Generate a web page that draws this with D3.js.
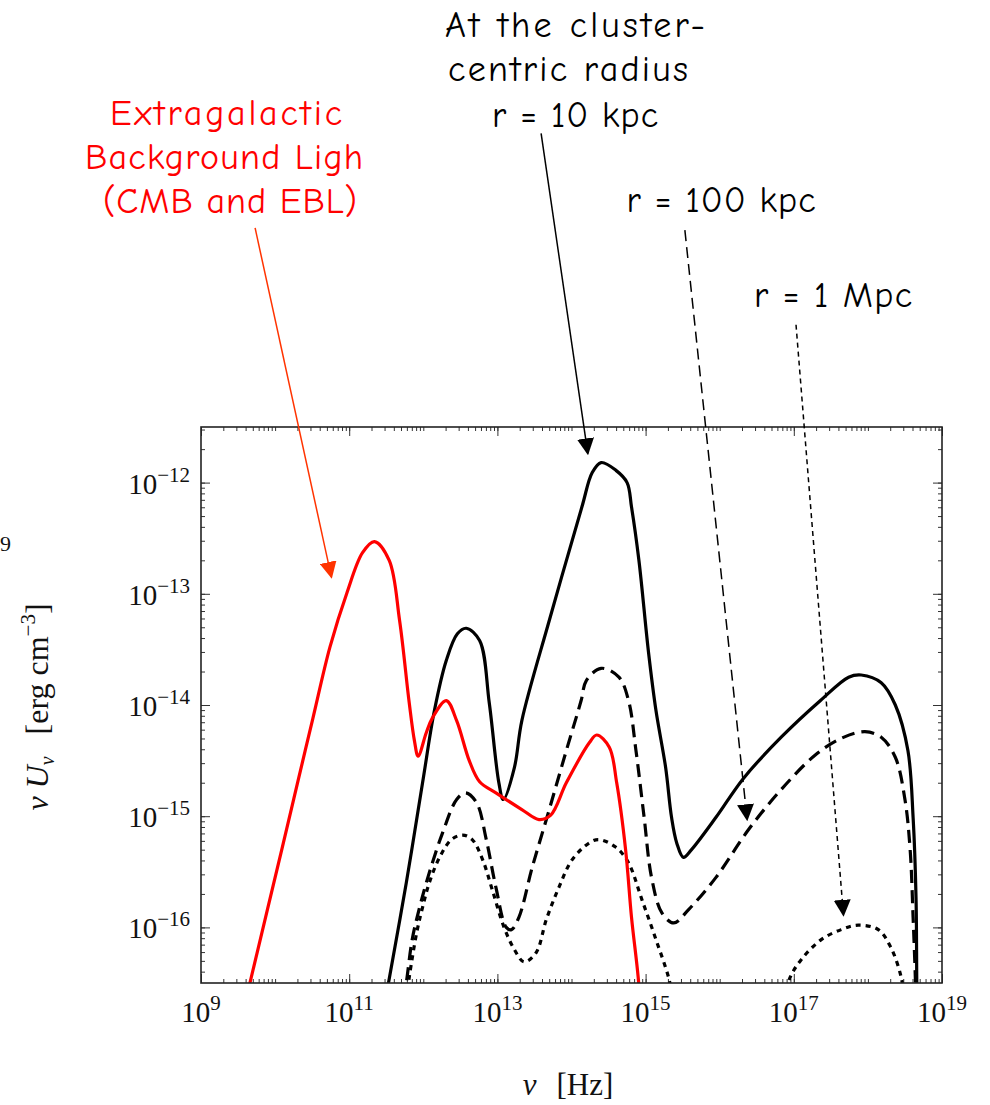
<!DOCTYPE html>
<html>
<head>
<meta charset="utf-8">
<script src="https://cdn.jsdelivr.net/npm/d3@7"></script>
<style>
  body { margin: 0; background: #fff; }
  #chart { width: 990px; height: 1105px; }
  .note { font-family: "Comic Sans MS", "Comic Neue", "Noto Sans", "DejaVu Sans", sans-serif; }
  .tick-label, .axisLabel { font-family: "Liberation Serif", "DejaVu Serif", serif; fill: #111; }
</style>
</head>
<body>
<div id="chart"></div>
<script>
  /* DATA : log10(nu / Hz) and log10(nu U_nu / erg cm^-3) */

  const eblLogNu = [9.61, 9.66, 10.09, 10.31, 10.51, 10.74, 10.97, 11.18, 11.34, 11.54, 11.68, 11.81, 11.88, 11.93,
    12.04, 12.12, 12.31, 12.45, 12.62, 12.76, 12.98, 13.33, 13.56, 13.72, 13.93, 14.24, 14.34, 14.51, 14.61,
    14.73, 14.81, 14.90, 14.95];
  const eblLogU = [-16.65, -16.50, -15.30, -14.68, -14.12, -13.48, -12.99, -12.63, -12.53, -12.70, -13.24, -13.98, -14.32, -14.46,
    -14.25, -14.12, -13.96, -14.14, -14.50, -14.69, -14.79, -14.94, -15.03, -14.99, -14.70, -14.34, -14.27, -14.38, -14.70,
    -15.30, -15.91, -16.45, -16.92];

  const r10LogNu = [11.49, 11.53, 11.77, 11.99, 12.15, 12.31, 12.46, 12.58, 12.76, 12.89, 13.02, 13.08, 13.23, 13.33,
    13.70, 14.14, 14.28, 14.40, 14.60, 14.75, 14.81, 14.91, 15.04, 15.14, 15.27, 15.35, 15.42, 15.51, 15.62, 15.95,
    16.32, 16.83, 17.36, 17.74, 17.91, 18.18, 18.37, 18.54, 18.61, 18.65, 18.66, 18.67];
  const r10LogU = [-16.65, -16.50, -15.60, -14.70, -14.05, -13.60, -13.36, -13.31, -13.42, -13.98, -14.70, -14.85, -14.56, -14.14,
    -13.24, -12.22, -11.91, -11.82, -11.89, -12.00, -12.22, -12.70, -13.53, -14.05, -14.56, -15.01, -15.24, -15.37, -15.30, -15.01,
    -14.66, -14.29, -13.96, -13.75, -13.73, -13.80, -14.00, -14.41, -15.01, -15.75, -16.50, -16.83];

  const r100LogNu = [11.73, 11.77, 11.85, 11.95, 12.08, 12.26, 12.45, 12.57, 12.72, 12.85, 12.98, 13.12, 13.19, 13.29,
    13.47, 13.70, 13.93, 14.13, 14.20, 14.40, 14.64, 14.77, 14.87, 14.98, 15.08, 15.22, 15.38, 15.58, 15.95, 16.39,
    16.83, 17.29, 17.64, 17.96, 18.18, 18.37, 18.50, 18.57, 18.61, 18.64, 18.65];
  const r100LogU = [-16.65, -16.50, -16.11, -15.82, -15.51, -15.15, -14.85, -14.79, -14.88, -15.21, -15.64, -16.00, -16.02, -15.91,
    -15.46, -14.94, -14.41, -13.96, -13.78, -13.67, -13.75, -13.96, -14.41, -15.01, -15.55, -15.87, -15.96, -15.84, -15.55, -15.12,
    -14.76, -14.45, -14.30, -14.24, -14.29, -14.47, -14.85, -15.30, -15.91, -16.45, -16.74];

  // null = curve leaves the frame below 1e-16.5
  const r1000LogNu = [11.77, 11.81, 11.91, 11.99, 12.08, 12.22, 12.38, 12.53, 12.66, 12.80, 12.93, 13.09, 13.23, 13.36,
    13.52, 13.66, 13.83, 14.01, 14.24, 14.37, 14.60, 14.77, 14.95, 15.14, 15.31, 15.37, null,
    16.87, 16.95, 17.10, 17.37, 17.64, 17.87, 18.14, 18.31, 18.45, 18.49];
  const r1000LogU = [-16.65, -16.45, -16.05, -15.82, -15.60, -15.37, -15.21, -15.17, -15.21, -15.39, -15.66, -16.00, -16.20, -16.31,
    -16.23, -15.93, -15.64, -15.39, -15.24, -15.21, -15.28, -15.42, -15.75, -16.11, -16.45, -16.65, null,
    -16.65, -16.45, -16.29, -16.11, -16.02, -15.98, -16.02, -16.18, -16.45, -16.65];

  const xLabelExps = [9, 11, 13, 15, 17, 19];
  const yLabelExps = [-12, -13, -14, -15, -16];

  // arrows: [tail logNu, tail logU, tip logNu, tip logU]
  const arrowEbl  = [9.73, -9.71, 10.76, -12.85];
  const arrow10   = [13.59, -8.86, 14.22, -11.74];
  const arrow100  = [15.53, -9.73, 16.37, -15.03];
  const arrow1000 = [17.03, -10.58, 17.67, -15.89];

  /* CANVAS */
  const width = 990, height = 1105;
  const plot = {left: 201, right: 942, top: 427, bottom: 983};

  const svg = d3.select("#chart")
    .append("svg")
    .attr("width", width)
    .attr("height", height);

  /* SCALES */
  const xScale = d3.scaleLog()
    .domain([1e9, 1e19])
    .range([plot.left, plot.right]);

  const yScale = d3.scaleLog()
    .domain([Math.pow(10, -16.5), Math.pow(10, -11.5)])
    .range([plot.bottom, plot.top]);

  const px = lx => xScale(Math.pow(10, lx));
  const py = ly => yScale(Math.pow(10, ly));

  /* TICKS (inward, all four sides) */
  const xMinor = [], yMinor = [];
  for (let e = 9; e < 19; e++) for (let k = 1; k < 10; k++) xMinor.push(k * Math.pow(10, e));
  for (let e = -17; e < -11; e++) for (let k = 1; k < 10; k++) {
    const v = k * Math.pow(10, e);
    if (v >= Math.pow(10, -16.5) && v <= Math.pow(10, -11.5)) yMinor.push(v);
  }
  const xMajor = xLabelExps.map(e => Math.pow(10, e));
  const yMajor = yLabelExps.map(e => Math.pow(10, e));

  function addAxis(axisFn, scale, values, len, tx, ty) {
    const g = svg.append("g")
      .attr("transform", `translate(${tx},${ty})`)
      .call(axisFn(scale).tickValues(values).tickSize(-len).tickFormat(""));
    g.select(".domain").remove();
    g.selectAll("line").attr("stroke", "#333").attr("stroke-width", 1);
  }
  addAxis(d3.axisBottom, xScale, xMinor, 4, 0, plot.bottom);
  addAxis(d3.axisBottom, xScale, xMajor, 9, 0, plot.bottom);
  addAxis(d3.axisTop, xScale, xMinor, 4, 0, plot.top);
  addAxis(d3.axisTop, xScale, xMajor, 9, 0, plot.top);
  addAxis(d3.axisLeft, yScale, yMinor, 4, plot.left, 0);
  addAxis(d3.axisLeft, yScale, yMajor, 9, plot.left, 0);
  addAxis(d3.axisRight, yScale, yMinor, 4, plot.right, 0);
  addAxis(d3.axisRight, yScale, yMajor, 9, plot.right, 0);

  /* CURVES */
  svg.append("clipPath").attr("id", "clip")
    .append("rect")
    .attr("x", plot.left).attr("y", plot.top)
    .attr("width", plot.right - plot.left).attr("height", plot.bottom - plot.top);

  const line = d3.line()
    .defined(d => d[0] != null)
    .x(d => px(d[0]))
    .y(d => py(d[1]))
    .curve(d3.curveCatmullRom.alpha(0.5));

  const curves = [
    {nu: r1000LogNu, u: r1000LogU, color: "#000", dash: "5,5"},
    {nu: r100LogNu, u: r100LogU, color: "#000", dash: "13,7"},
    {nu: r10LogNu, u: r10LogU, color: "#000", dash: null},
    {nu: eblLogNu, u: eblLogU, color: "#f00", dash: null}
  ];

  const curveG = svg.append("g").attr("clip-path", "url(#clip)");
  curves.forEach(c => {
    curveG.append("path")
      .datum(d3.zip(c.nu, c.u))
      .attr("d", line)
      .attr("fill", "none")
      .attr("stroke", c.color)
      .attr("stroke-width", 3.2)
      .attr("stroke-linejoin", "round")
      .attr("stroke-dasharray", c.dash);
  });

  /* FRAME */
  svg.append("rect")
    .attr("x", plot.left).attr("y", plot.top)
    .attr("width", plot.right - plot.left).attr("height", plot.bottom - plot.top)
    .attr("fill", "none").attr("stroke", "#222").attr("stroke-width", 1.6);

  /* TICK LABELS */
  xLabelExps.forEach(e => {
    const t = svg.append("text").attr("class", "tick-label")
      .attr("x", xScale(Math.pow(10, e))).attr("y", 1022)
      .attr("text-anchor", "middle").attr("font-size", 29);
    t.append("tspan").text("10");
    t.append("tspan").attr("dy", -12).attr("font-size", 21).text(e);
  });

  yLabelExps.forEach(e => {
    const t = svg.append("text").attr("class", "tick-label")
      .attr("x", 190).attr("y", yScale(Math.pow(10, e)) + 11)
      .attr("text-anchor", "end").attr("font-size", 29);
    t.append("tspan").text("10");
    t.append("tspan").attr("dy", -12).attr("font-size", 21).text("\u2212" + (-e));
  });

  /* AXIS LABELS */
  const xl = svg.append("text").attr("class", "axisLabel")
    .attr("x", 568).attr("y", 1095)
    .attr("text-anchor", "middle").attr("font-size", 31);
  xl.append("tspan").attr("font-style", "italic").text("\u03bd");
  xl.append("tspan").attr("dx", 20).text("[Hz]");

  const yl = svg.append("text").attr("class", "axisLabel")
    .attr("transform", "translate(48,707) rotate(-90)")
    .attr("text-anchor", "middle").attr("font-size", 32);
  yl.append("tspan").attr("font-style", "italic").text("\u03bd U");
  yl.append("tspan").attr("font-style", "italic").attr("font-size", 20).attr("dy", 6).text("\u03bd");
  yl.append("tspan").attr("dx", 22).attr("dy", -6).text("[erg cm");
  yl.append("tspan").attr("font-size", 21).attr("dy", -13).text("\u22123");
  yl.append("tspan").attr("dy", 13).text("]");

  // stray fragment at the left edge
  svg.append("text").attr("class", "axisLabel")
    .attr("x", 0).attr("y", 551).attr("font-size", 22).text("9");

  /* ANNOTATIONS */
  svg.append("defs").selectAll("marker")
    .data([{id: "headRed", color: "#ff3300"}, {id: "headBlack", color: "#000"}])
    .join("marker")
      .attr("id", d => d.id)
      .attr("viewBox", "0 0 10 10")
      .attr("refX", 9).attr("refY", 5)
      .attr("markerWidth", 17).attr("markerHeight", 17)
      .attr("markerUnits", "userSpaceOnUse")
      .attr("orient", "auto")
    .append("path")
      .attr("d", "M0,0 L10,5 L0,10 Z")
      .attr("fill", d => d.color);

  function arrow(a, color, marker, dash) {
    svg.append("line")
      .attr("x1", px(a[0])).attr("y1", py(a[1]))
      .attr("x2", px(a[2])).attr("y2", py(a[3]))
      .attr("stroke", color).attr("stroke-width", 1.5)
      .attr("stroke-dasharray", dash)
      .attr("marker-end", `url(#${marker})`);
  }
  arrow(arrowEbl, "#ff3300", "headRed", null);
  arrow(arrow10, "#000", "headBlack", null);
  arrow(arrow100, "#000", "headBlack", "11,6");
  arrow(arrow1000, "#000", "headBlack", "5,4");

  // each line: [text, centre x, baseline y, width]
  function note(lines, color) {
    lines.forEach(l => {
      svg.append("text").attr("class", "note")
        .attr("text-anchor", "middle").attr("fill", color).attr("font-size", 36)
        .attr("x", l[1]).attr("y", l[2])
        .attr("textLength", l[3]).attr("lengthAdjust", "spacing")
        .text(l[0]);
    });
  }
  note([["Extragalactic", 226, 125, 232], ["Background Ligh", 224, 169, 278], ["(CMB and EBL)", 230, 213, 254]], "#ff0000");
  note([["At the cluster-", 575, 37, 260], ["centric radius", 568, 81, 240], ["r = 10 kpc", 575, 127, 166],
        ["r = 100 kpc", 721, 212, 189], ["r = 1 Mpc", 833, 307, 158]], "#000");
</script>
</body>
</html>
